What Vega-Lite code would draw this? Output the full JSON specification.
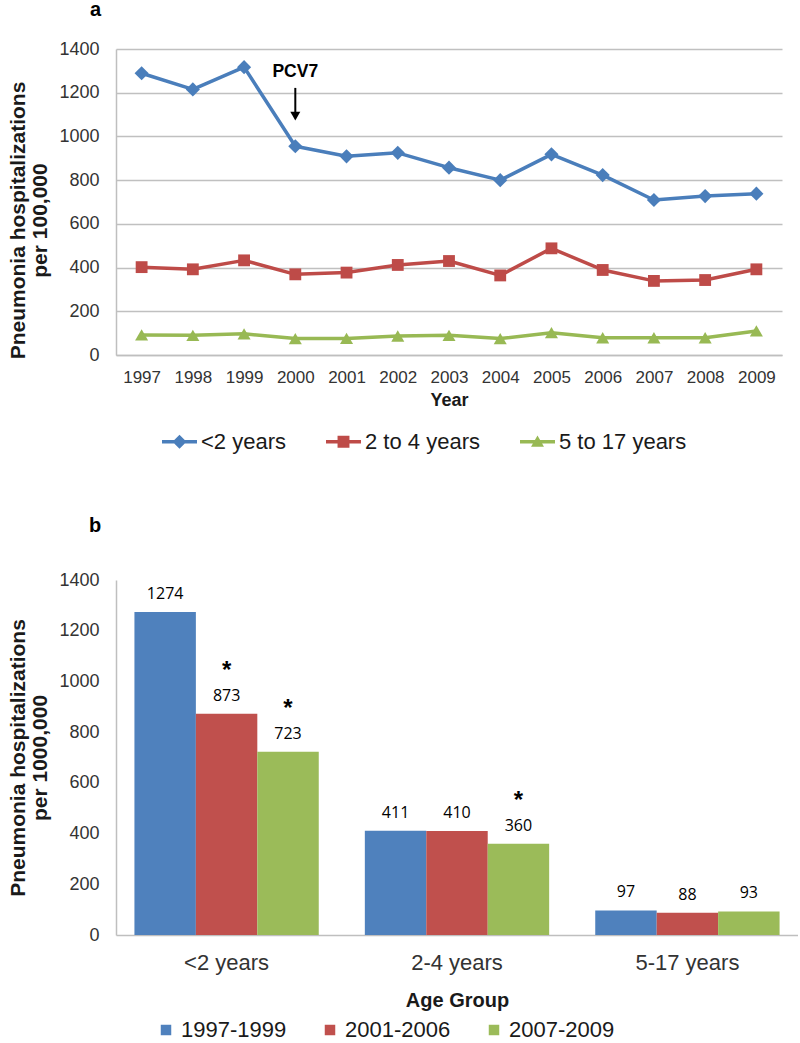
{
  "$schema": "https://vega.github.io/schema/vega-lite/v6.json",
  "padding": {"left": 7, "top": 0, "right": 0, "bottom": 0},
  "background": "white",
  "spacing": 62,
  "config": {
    "font": "Liberation Sans",
    "view": {"stroke": null},
    "axis": {"labelFont": "Liberation Sans", "titleFont": "Liberation Sans", "labelColor": "#333333", "titleColor": "#1a1a1a", "domainColor": "#BFBFBF", "ticks": false, "gridColor": "#BFBFBF"},
    "legend": {"labelFont": "Liberation Sans", "labelColor": "#1a1a1a"}
  },
  "resolve": {"scale": {"color": "independent", "shape": "independent"}, "legend": {"color": "independent", "shape": "independent"}},
  "vconcat": [
    {
      "title": {"text": "a", "anchor": "start", "frame": "group", "fontSize": 20, "fontWeight": "bold", "dx": -26, "offset": 20, "color": "#000000"},
      "width": 666,
      "height": 306,
      "layer": [
        {
          "data": {"name": "lines"},
          "mark": {"type": "point", "filled": true, "opacity": 0, "size": 1225},
          "encoding": {
            "x": {"field": "year", "type": "ordinal", "scale": {"type": "point", "padding": 0.5},
              "axis": {"title": "Year", "titleFontSize": 18, "titleFontWeight": "bold", "titlePadding": 6, "labelFontSize": 17, "labelPadding": 14, "labelAngle": 0, "domainWidth": 1.5}},
            "y": {"field": "rate", "type": "quantitative", "scale": {"domain": [0, 1400]},
              "axis": {"title": ["Pneumonia hospitalizations", "per 100,000"], "titleFontSize": 21, "titleFontWeight": "bold", "titleLineHeight": 22, "titleY": 171, "titlePadding": 8, "values": [0, 200, 400, 600, 800, 1000, 1200, 1400], "format": "d", "labelFontSize": 18, "labelPadding": 17, "grid": true, "gridColor": "#C0C0C0", "gridWidth": 1.5, "domain": true, "domainWidth": 1.5}},
            "color": {"field": "group", "type": "nominal",
              "scale": {"domain": ["<2 years", "2 to 4 years", "5 to 17 years"], "range": ["#4A7EBB", "#BE4B48", "#98B954"]},
              "legend": {"orient": "none", "legendX": 46, "legendY": 375, "direction": "horizontal", "title": null, "padding": 0,
                "labelFontSize": 22, "labelOffset": 4, "columnPadding": 40, "symbolSize": 1225, "symbolStrokeWidth": 0, "symbolOpacity": 1}},
            "shape": {"field": "group", "type": "nominal",
              "scale": {"domain": ["<2 years", "2 to 4 years", "5 to 17 years"],
                "range": ["M-1,-0.1H1V0.1H-1Z M0,-0.4L0.4,0L0,0.4L-0.4,0Z", "M-1,-0.1H1V0.1H-1Z M-0.34,-0.34H0.34V0.34H-0.34Z", "M-1,-0.1H1V0.1H-1Z M0,-0.36L0.37,0.28H-0.37Z"]},
              "legend": {"orient": "none", "legendX": 46, "legendY": 375, "direction": "horizontal", "title": null, "padding": 0,
                "labelFontSize": 22, "labelOffset": 4, "columnPadding": 40, "symbolSize": 1225, "symbolStrokeWidth": 0, "symbolOpacity": 1}}
          }
        },
        {
          "data": {"name": "lines"},
          "mark": {"type": "line", "strokeWidth": 3.5, "strokeJoin": "round"},
          "encoding": {
            "x": {"field": "year", "type": "ordinal"},
            "y": {"field": "rate", "type": "quantitative"},
            "color": {"field": "group", "type": "nominal", "legend": null}
          }
        },
        {
          "data": {"name": "lines"},
          "transform": [{"filter": "datum.group === '<2 years'"}],
          "mark": {"type": "point", "filled": true, "opacity": 1, "shape": "diamond", "size": 200},
          "encoding": {
            "x": {"field": "year", "type": "ordinal"},
            "y": {"field": "rate", "type": "quantitative"},
            "color": {"field": "group", "type": "nominal", "legend": null}
          }
        },
        {
          "data": {"name": "lines"},
          "transform": [{"filter": "datum.group === '2 to 4 years'"}],
          "mark": {"type": "point", "filled": true, "opacity": 1, "shape": "square", "size": 140},
          "encoding": {
            "x": {"field": "year", "type": "ordinal"},
            "y": {"field": "rate", "type": "quantitative"},
            "color": {"field": "group", "type": "nominal", "legend": null}
          }
        },
        {
          "data": {"name": "lines"},
          "transform": [{"filter": "datum.group === '5 to 17 years'"}],
          "mark": {"type": "point", "filled": true, "opacity": 1, "shape": "triangle-up", "size": 170},
          "encoding": {
            "x": {"field": "year", "type": "ordinal"},
            "y": {"field": "rate", "type": "quantitative"},
            "color": {"field": "group", "type": "nominal", "legend": null}
          }
        },
        {
          "data": {"values": [{"year": 2000, "label": "PCV7"}]},
          "mark": {"type": "text", "fontSize": 17.5, "fontWeight": "bold", "baseline": "alphabetic", "align": "center", "color": "#000000"},
          "encoding": {
            "x": {"field": "year", "type": "ordinal"},
            "y": {"datum": 1272, "type": "quantitative"},
            "text": {"field": "label"}
          }
        },
        {
          "data": {"values": [{"year": 2000}]},
          "mark": {"type": "rule", "strokeWidth": 2, "color": "#000000"},
          "encoding": {
            "x": {"field": "year", "type": "ordinal"},
            "y": {"datum": 1222, "type": "quantitative"},
            "y2": {"datum": 1110}
          }
        },
        {
          "data": {"values": [{"year": 2000}]},
          "mark": {"type": "point", "shape": "triangle-down", "filled": true, "color": "#000000", "size": 100, "opacity": 1},
          "encoding": {
            "x": {"field": "year", "type": "ordinal"},
            "y": {"datum": 1093, "type": "quantitative"}
          }
        }
      ]
    },
    {
      "title": {"text": "b", "anchor": "start", "frame": "group", "fontSize": 20, "fontWeight": "bold", "dx": -27, "offset": 21, "color": "#000000"},
      "width": 682,
      "height": 355,
      "data": {"name": "bars"},
      "encoding": {
        "x": {"field": "age", "type": "nominal", "sort": null, "scale": {"paddingInner": 0.2, "paddingOuter": 0.08},
          "axis": {"title": "Age Group", "titleFontSize": 20, "titleFontWeight": "bold", "titlePadding": 17, "labelFontSize": 22, "labelPadding": 17, "labelAngle": 0, "domainWidth": 1.5}},
        "xOffset": {"field": "period", "type": "nominal", "sort": null, "scale": {"paddingInner": 0, "paddingOuter": 0}},
        "y": {"field": "rate", "type": "quantitative", "scale": {"domain": [0, 1400]},
          "axis": {"title": ["Pneumonia hospitalizations", "per 1000,000"], "titleFontSize": 21, "titleFontWeight": "bold", "titleLineHeight": 22, "titlePadding": 8, "values": [0, 200, 400, 600, 800, 1000, 1200, 1400], "format": "d", "labelFontSize": 18, "labelPadding": 17, "grid": false, "domain": true, "domainWidth": 1.5}}
      },
      "layer": [
        {
          "mark": {"type": "bar"},
          "encoding": {
            "color": {"field": "period", "type": "nominal",
              "scale": {"domain": ["1997-1999", "2001-2006", "2007-2009"], "range": ["#4F81BD", "#C0504D", "#9BBB59"]},
              "legend": {"orient": "none", "legendX": 39, "legendY": 439, "direction": "horizontal", "title": null, "padding": 0,
                "symbolType": "square", "symbolSize": 110, "symbolStrokeWidth": 0, "symbolOpacity": 1, "labelFontSize": 22, "labelOffset": 4, "columnPadding": 32}}
          }
        },
        {
          "mark": {"type": "text", "font": "Open Sans", "fontSize": 16, "baseline": "alphabetic", "dy": -13, "color": "#000000"},
          "encoding": {"text": {"field": "rate", "type": "quantitative"}}
        },
        {
          "mark": {"type": "text", "fontSize": 24, "fontWeight": "bold", "baseline": "alphabetic", "dy": -36, "color": "#000000"},
          "encoding": {"text": {"field": "star", "type": "nominal"}}
        }
      ]
    }
  ],
  "datasets": {
    "lines": [
      {"year": 1997, "group": "<2 years", "rate": 1289},
      {"year": 1998, "group": "<2 years", "rate": 1215},
      {"year": 1999, "group": "<2 years", "rate": 1317},
      {"year": 2000, "group": "<2 years", "rate": 955},
      {"year": 2001, "group": "<2 years", "rate": 909},
      {"year": 2002, "group": "<2 years", "rate": 925},
      {"year": 2003, "group": "<2 years", "rate": 857},
      {"year": 2004, "group": "<2 years", "rate": 800},
      {"year": 2005, "group": "<2 years", "rate": 918},
      {"year": 2006, "group": "<2 years", "rate": 823},
      {"year": 2007, "group": "<2 years", "rate": 709},
      {"year": 2008, "group": "<2 years", "rate": 727},
      {"year": 2009, "group": "<2 years", "rate": 738},
      {"year": 1997, "group": "2 to 4 years", "rate": 402},
      {"year": 1998, "group": "2 to 4 years", "rate": 392},
      {"year": 1999, "group": "2 to 4 years", "rate": 433},
      {"year": 2000, "group": "2 to 4 years", "rate": 369},
      {"year": 2001, "group": "2 to 4 years", "rate": 377},
      {"year": 2002, "group": "2 to 4 years", "rate": 412},
      {"year": 2003, "group": "2 to 4 years", "rate": 430},
      {"year": 2004, "group": "2 to 4 years", "rate": 364},
      {"year": 2005, "group": "2 to 4 years", "rate": 488},
      {"year": 2006, "group": "2 to 4 years", "rate": 389},
      {"year": 2007, "group": "2 to 4 years", "rate": 339},
      {"year": 2008, "group": "2 to 4 years", "rate": 343},
      {"year": 2009, "group": "2 to 4 years", "rate": 392},
      {"year": 1997, "group": "5 to 17 years", "rate": 92},
      {"year": 1998, "group": "5 to 17 years", "rate": 90},
      {"year": 1999, "group": "5 to 17 years", "rate": 97},
      {"year": 2000, "group": "5 to 17 years", "rate": 75},
      {"year": 2001, "group": "5 to 17 years", "rate": 76},
      {"year": 2002, "group": "5 to 17 years", "rate": 87},
      {"year": 2003, "group": "5 to 17 years", "rate": 90},
      {"year": 2004, "group": "5 to 17 years", "rate": 75},
      {"year": 2005, "group": "5 to 17 years", "rate": 102},
      {"year": 2006, "group": "5 to 17 years", "rate": 79},
      {"year": 2007, "group": "5 to 17 years", "rate": 79},
      {"year": 2008, "group": "5 to 17 years", "rate": 79},
      {"year": 2009, "group": "5 to 17 years", "rate": 110}
    ],
    "bars": [
      {"age": "<2 years", "period": "1997-1999", "rate": 1274, "star": ""},
      {"age": "<2 years", "period": "2001-2006", "rate": 873, "star": "*"},
      {"age": "<2 years", "period": "2007-2009", "rate": 723, "star": "*"},
      {"age": "2-4 years", "period": "1997-1999", "rate": 411, "star": ""},
      {"age": "2-4 years", "period": "2001-2006", "rate": 410, "star": ""},
      {"age": "2-4 years", "period": "2007-2009", "rate": 360, "star": "*"},
      {"age": "5-17 years", "period": "1997-1999", "rate": 97, "star": ""},
      {"age": "5-17 years", "period": "2001-2006", "rate": 88, "star": ""},
      {"age": "5-17 years", "period": "2007-2009", "rate": 93, "star": ""}
    ]
  }
}
